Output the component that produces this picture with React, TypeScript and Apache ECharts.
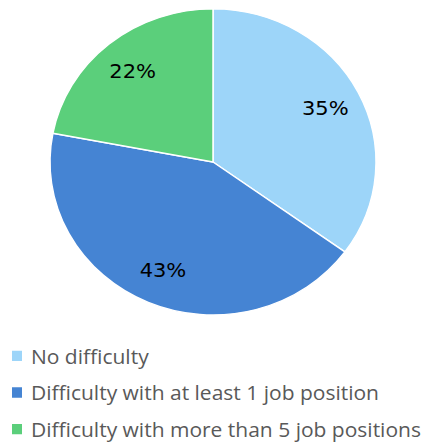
import React, { useEffect, useRef } from "react";
import * as echarts from "echarts";

const categories = ["No difficulty", "Difficulty with at least 1 job position", "Difficulty with more than 5 job positions"];
const values = [35, 43, 22];
const colors = ["#9dd5f9", "#4584d3", "#5bcf7b"];

const SY = 0.939;

export default function App() {
  const ref = useRef<HTMLDivElement>(null);
  useEffect(() => {
    if (!ref.current) return;
    const chart = echarts.init(ref.current, null, { renderer: "svg" });
    const data = categories.map((name, i) => ({ name, value: values[i], itemStyle: { color: colors[i] } }));
    chart.setOption({
      animation: false,
      legend: {
        orient: "vertical",
        left: 10,
        top: 367,
        height: 120,
        icon: "rect",
        itemWidth: 12,
        itemHeight: 13,
        itemGap: 15,
        padding: 0,
        data: categories,
        textStyle: { fontFamily: "Open Sans", fontSize: 21, color: "#595959", lineHeight: 24, padding: [0, 0, 0, 3] },
      },
      series: [
        {
          type: "pie",
          center: [213, 172.5],
          radius: [0, 163],
          startAngle: 90,
          clockwise: true,
          silent: true,
          label: { show: false },
          labelLine: { show: false },
          itemStyle: { borderColor: "#ffffff", borderWidth: 1.5 },
          data,
        },
        {
          type: "pie",
          center: [213, 172.5],
          radius: [113, 133],
          startAngle: 90,
          clockwise: true,
          silent: true,
          legendHoverLink: false,
          itemStyle: { color: "transparent", borderWidth: 0 },
          label: {
            show: true,
            position: "inside",
            formatter: (p: any) => p.value + "%",
            fontFamily: "DejaVu Sans",
            fontSize: 21,
            color: "#000000",
          },
          labelLine: { show: false },
          data: categories.map((name, i) => ({ name, value: values[i], itemStyle: { color: "transparent" } })),
        },
      ],
    });
    return () => chart.dispose();
  }, []);
  return (
    <div
      ref={ref}
      style={{
        position: "fixed",
        left: 0,
        top: 0,
        width: 424,
        height: 443 / SY,
        transform: `scaleY(${SY})`,
        transformOrigin: "top left",
        background: "#ffffff",
      }}
    />
  );
}
